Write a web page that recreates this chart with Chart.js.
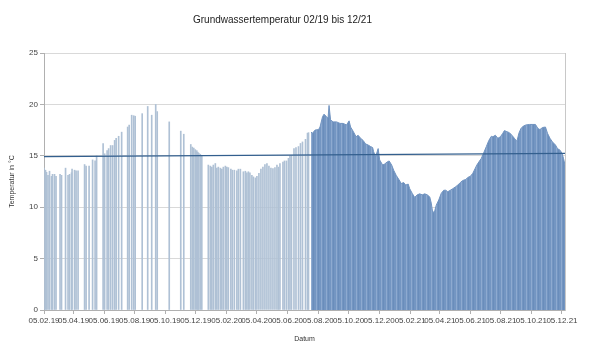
<!DOCTYPE html>
<html>
<head>
<meta charset="utf-8">
<script src="https://cdn.jsdelivr.net/npm/chart.js@4"></script>
<style>
  html, body { margin: 0; padding: 0; background: #fff; }
  #wrap { width: 600px; height: 353px; }
</style>
</head>
<body>
<div id="wrap"><canvas id="chart"></canvas></div>
<script>
// Tage seit 05.02.19, Einzelmessungen (bis 07.20)
const einzelTage = [0,3,5,8,11,15,17,21,24,32,
    35,43,48,51,55,56,61,64,68,81,
    84,90,97,102,105,118,121,126,129,133,
    137,141,144,149,155,167,170,175,179,182,
    196,207,215,223,226,250,273,279,293,296,
    299,302,305,307,309,312,315,328,332,335,
    338,342,345,348,352,355,358,362,365,368,
    373,376,380,385,388,392,398,402,405,408,
    411,415,418,422,425,429,433,437,441,445,
    449,453,457,461,465,468,471,477,480,484,
    488,491,494,499,503,508,512,516,522,526,
    528];
const einzelWerte = [13.8,13.6,13.4,13.1,13.5,13.0,13.2,13.2,13.0,13.2,
    13.1,13.8,13.1,13.2,13.35,13.7,13.6,13.55,13.55,14.15,
    14.0,14.0,14.6,14.5,15.0,16.2,15.2,15.5,15.7,16.0,
    16.0,16.5,16.7,16.9,17.3,17.8,18.0,18.95,18.9,18.85,
    19.1,19.8,18.95,20.0,19.3,18.3,17.4,17.1,16.1,15.85,
    15.75,15.6,15.5,15.35,15.25,15.15,15.0,14.1,14.0,13.9,
    14.1,14.25,13.8,13.9,13.8,13.7,13.9,14.0,13.9,13.85,
    13.7,13.6,13.6,13.55,13.7,13.7,13.45,13.5,13.35,13.45,
    13.35,13.1,12.95,12.85,13.0,13.3,13.7,13.9,14.15,14.25,
    14.0,13.8,13.75,13.85,14.1,13.9,14.25,14.4,14.5,14.5,
    14.75,15.0,15.05,15.7,15.8,15.9,16.2,16.35,16.6,17.2,
    17.25];

// tägliche Messung ab 07.20
const taeglichTage = [533,536,541,548,551,556,559,563,567,569,
    572,577,584,591,597,604,609,612,617,623,
    627,632,637,642,647,652,656,658,662,667,
    670,676,680,685,689,694,698,703,709,713,
    718,722,727,730,735,740,745,750,755,760,
    765,770,773,776,780,783,788,793,798,802,
    806,811,816,822,826,831,836,842,846,851,
    856,861,864,868,873,877,883,888,893,896,
    901,906,911,916,919,924,929,934,939,944,
    948,952,957,962,969,976,981,986,990,995,
    1001,1005,1010,1015,1021,1025,1030,1034,1037,1040];
const taeglichWerte = [17.3,17.2,17.5,17.55,17.8,18.8,19.05,18.85,18.65,19.9,
    18.5,18.3,18.3,18.15,18.15,18.0,18.4,17.8,17.4,16.85,
    17.0,16.7,16.5,16.15,16.05,15.9,15.8,15.4,14.9,15.7,
    14.6,14.1,14.2,14.4,14.5,14.1,13.6,13.1,12.65,12.3,
    12.4,12.15,12.25,11.8,11.35,10.95,11.2,11.3,11.2,11.3,
    11.2,11.0,10.4,9.45,9.65,10.2,10.7,11.35,11.65,11.65,
    11.5,11.65,11.8,12.0,12.15,12.4,12.6,12.7,12.9,13.0,
    13.3,13.8,14.1,14.4,14.75,15.2,15.9,16.5,16.9,16.85,
    17.0,16.7,16.85,17.2,17.45,17.35,17.25,17.0,16.7,16.4,
    17.2,17.65,17.9,18.0,18.05,18.05,18.05,17.65,17.55,17.75,
    17.8,17.2,16.7,16.35,16.05,15.7,15.55,15.25,14.75,14.1];

// lineare Trendlinie
const trendTage = [0, 1040];
const trendWerte = [14.92, 15.24];

const xTickLabels = ['05.02.19','05.04.19','05.06.19','05.08.19','05.10.19','05.12.19',
    '05.02.20','05.04.20','05.06.20','05.08.20','05.10.20','05.12.20',
    '05.02.21','05.04.21','05.06.21','05.08.21','05.10.21','05.12.21'];

const start = Date.UTC(2019, 1, 5);
function tagVon(label) {
    const [d, m, y] = label.split('.').map(Number);
    return Math.round((Date.UTC(2000 + y, m - 1, d) - start) / 86400000);
}
const tickTage = xTickLabels.map(tagVon);

const pts = (xs, ys) => xs.map((x, i) => ({ x: x, y: ys[i] }));

// streifige Füllung wie die dicht stehenden Balken
function streifen() {
    const c = document.createElement('canvas');
    c.width = 5; c.height = 1;
    const g = c.getContext('2d');
    g.fillStyle = '#7496c2'; g.fillRect(0, 0, 5, 1);
    g.fillStyle = '#8eaad0'; g.fillRect(1, 0, 1, 1);
    g.fillStyle = '#6a8dbb'; g.fillRect(3, 0, 1, 1);
    return g.createPattern(c, 'repeat');
}

Chart.defaults.font.family = '"Liberation Sans", Arial, sans-serif';
Chart.defaults.color = '#444';

new Chart(document.getElementById('chart'), {
    type: 'bar',
    data: {
        datasets: [
            {
                type: 'line',
                data: pts(trendTage, trendWerte),
                borderColor: '#335f8e',
                borderWidth: 1.2,
                pointRadius: 0,
                fill: false,
                order: 0
            },
            {
                type: 'line',
                data: pts(taeglichTage, taeglichWerte),
                borderColor: '#7093c0',
                borderWidth: 1,
                backgroundColor: streifen(),
                pointRadius: 0,
                tension: 0,
                fill: 'origin',
                order: 1
            },
            {
                type: 'bar',
                data: pts(einzelTage, einzelWerte),
                backgroundColor: '#afc1d5',
                barThickness: 1,
                order: 2
            }
        ]
    },
    options: {
        responsive: true,
        maintainAspectRatio: false,
        animation: false,
        layout: { padding: { left: 0, right: 35, top: 0, bottom: 0 } },
        plugins: {
            legend: { display: false },
            tooltip: { enabled: false },
            title: {
                display: true,
                text: 'Grundwassertemperatur 02/19 bis 12/21',
                color: '#222',
                font: { size: 10, weight: 'normal' },
                padding: { top: 14, bottom: 27 }
            }
        },
        scales: {
            x: {
                type: 'linear',
                min: 0,
                max: 1040,
                offset: false,
                afterFit: s => { s.height = 43; },
                afterBuildTicks: s => { s.ticks = tickTage.map(v => ({ value: v })); },
                ticks: {
                    autoSkip: false,
                    maxRotation: 0,
                    minRotation: 0,
                    padding: 2,
                    font: { size: 8 },
                    color: '#444',
                    callback: (v, i) => xTickLabels[i]
                },
                grid: { offset: false, drawOnChartArea: false, tickLength: 4, color: '#b0b0b0' },
                border: { color: '#b0b0b0' },
                title: {
                    display: true,
                    text: 'Datum',
                    color: '#333',
                    font: { size: 7 },
                    padding: { top: 0, bottom: 10 }
                }
            },
            y: {
                min: 0,
                max: 25,
                afterFit: s => { s.width = 44; },
                ticks: { stepSize: 5, padding: 2, font: { size: 8 }, color: '#444' },
                grid: { color: '#d9d9d9', tickLength: 4, tickColor: '#b0b0b0' },
                border: { color: '#b0b0b0' },
                title: {
                    display: true,
                    text: 'Temperatur in °C',
                    color: '#333',
                    font: { size: 7 },
                    padding: { top: 8, bottom: 0 }
                }
            },
            y2: {
                position: 'right',
                min: 0,
                max: 25,
                afterFit: s => { s.width = 0; },
                ticks: { display: false },
                grid: { drawOnChartArea: false, drawTicks: false },
                border: { color: '#c8c8c8' }
            }
        }
    }
});
</script>
</body>
</html>
